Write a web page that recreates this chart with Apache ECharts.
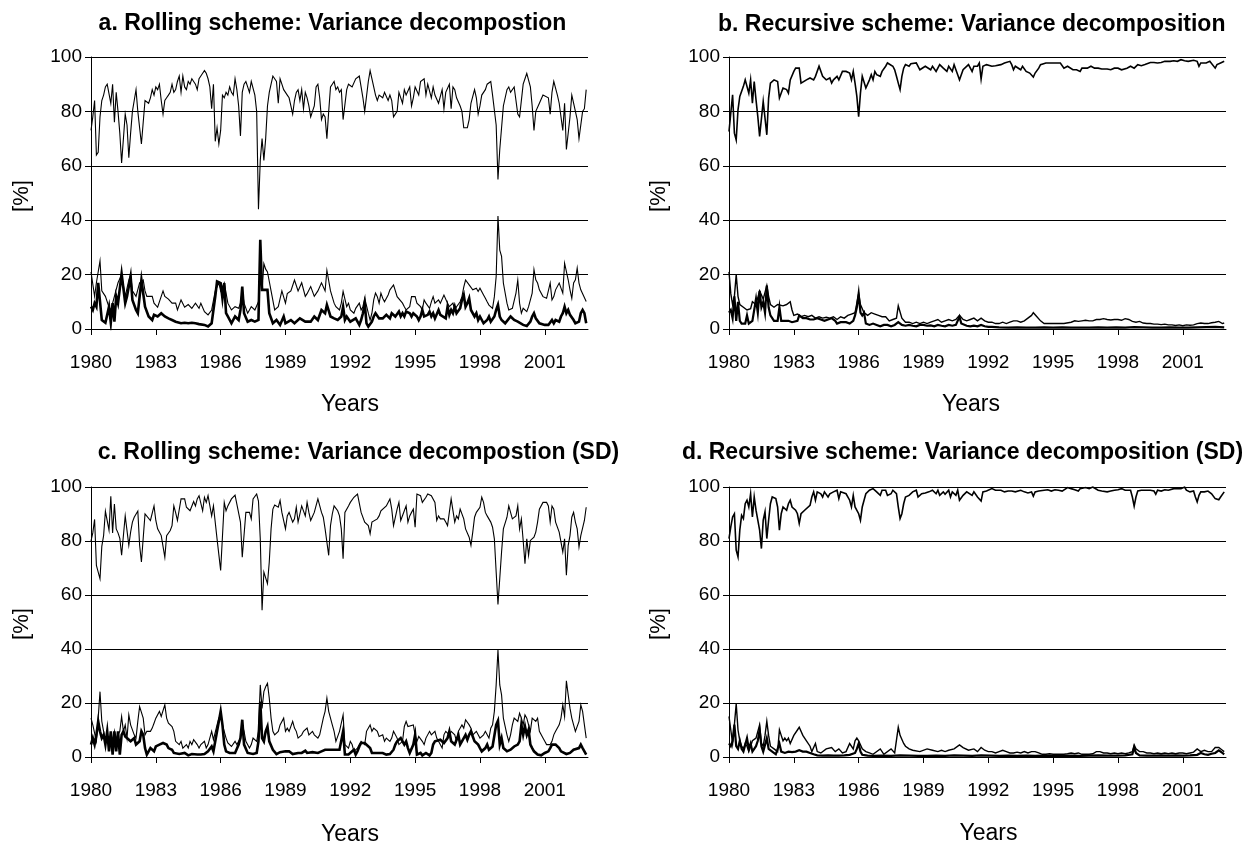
<!DOCTYPE html>
<html><head><meta charset="utf-8">
<script src="https://cdn.jsdelivr.net/npm/echarts@6/dist/echarts.min.js"></script>
<style>html,body{margin:0;padding:0;background:#fff}#c{width:1251px;height:846px}</style>
</head><body><div id="c"></div>
<script>
// x values are months since January 1980
const startYear = 1980;
const monthsTotal = 276;
const tickStepMonths = 36;
const panelTitles = [
  'a. Rolling scheme: Variance decompostion',
  'b. Recursive scheme: Variance decomposition',
  'c. Rolling scheme: Variance decompostion (SD)',
  'd. Recursive scheme: Variance decomposition (SD)'
];
const yAxisTitle = '[%]';
const xAxisTitle = 'Years';

// Panel a
const aTop = [[0,73],[1,78],[2,84],[3,64],[4,65],[5,78],[6,84],[7,86],[8,89],[9,90],[10,90],[11,83],[12,90],[13,76],[14,87],[15,80],[16,72],[17,61],[18,70],[19,79],[20,75],[21,63],[22,72],[23,80],[24,84],[25,88],[26,80],[27,74],[28,68],[29,76],[30,84],[31,84],[32,83],[33,85],[34,88],[35,86],[36,89],[37,88],[38,90],[39,84],[40,79],[41,84],[42,85],[43,86],[44,87],[45,90],[46,87],[47,88],[48,91],[49,93],[50,87],[51,93],[52,89],[53,88],[54,91],[55,90],[56,92],[57,91],[58,90],[59,88],[60,92],[61,93],[62,94],[63,95],[64,94],[65,92],[66,89],[67,81],[68,90],[69,69],[70,74],[71,68],[72,73],[73,86],[74,85],[75,87],[76,86],[77,89],[78,87],[79,86],[80,92],[81,88],[82,82],[83,71],[84,87],[85,90],[86,91],[87,89],[88,87],[89,91],[90,91],[91,86],[92,80],[93,44],[94,62],[95,70],[96,62],[97,70],[98,82],[99,87],[100,90],[101,93],[102,92],[103,91],[104,83],[105,92],[106,90],[107,88],[108,87],[109,86],[110,85],[111,82],[112,79],[113,84],[114,87],[115,88],[116,84],[117,88],[118,81],[119,87],[120,85],[121,82],[122,78],[123,80],[124,82],[125,89],[126,90],[127,85],[128,77],[129,79],[130,78],[131,70],[132,80],[133,89],[134,90],[135,91],[136,88],[137,89],[138,87],[139,88],[140,77],[142,88],[143,90],[145,89],[147,92],[149,93],[150,89],[151,85],[152,80],[154,91],[155,95],[157,89],[158,86],[159,84],[160,86],[162,85],[163,87],[165,84],[166,86],[167,84],[168,78],[170,80],[171,87],[173,83],[174,88],[175,86],[177,89],[178,82],[179,85],[180,89],[182,86],[183,91],[185,92],[186,86],[187,90],[189,85],[190,89],[191,86],[193,83],[195,88],[196,81],[197,87],[199,90],[200,81],[201,89],[202,88],[203,85],[205,82],[206,80],[207,74],[209,74],[210,77],[211,83],[213,88],[214,85],[215,79],[216,82],[217,86],[219,88],[220,90],[222,91],[223,86],[225,75],[226,55],[227,66],[229,82],[231,88],[232,89],[233,87],[235,89],[237,79],[238,78],[240,90],[241,92],[242,94],[244,89],[245,82],[246,73],[247,80],[249,83],[251,86],[252,86],[254,85],[255,79],[256,87],[257,91],[259,86],[260,83],[262,73],[263,83],[264,66],[266,78],[267,86],[268,83],[270,77],[271,70],[273,80],[274,81],[275,88]];
const aMid = [[0,21],[2,12],[3,17],[5,25],[6,14],[8,12],[10,8],[11,7],[13,12],[15,17],[17,20],[19,12],[21,18],[22,20],[23,14],[25,12],[27,17],[29,18],[30,14],[31,12],[34,12],[35,9.5],[37,8],[40,14],[41,12],[43,11],[45,9.5],[47,9.5],[48,7],[50,10.7],[52,8],[54,9],[56,7.6],[58,9.5],[60,7.6],[61,9.5],[63,6.4],[65,5.2],[67,7],[69,14],[71,17],[72,14],[74,17],[76,9.5],[78,7],[80,8.2],[82,7.6],[83,9.5],[84,14],[85,9.5],[87,5.8],[89,8.2],[91,7],[93,10],[94,20],[95,14],[96,24],[97,22],[98,21],[100,14],[102,7],[104,8.2],[106,14],[108,9.5],[109,13],[111,14],[113,18],[115,14],[117,17],[119,12],[120,13],[122,15.6],[124,12],[126,14],[128,17],[130,14],[131,21.5],[133,14],[135,9.5],[136,8.2],[138,7],[139,9.5],[140,13.8],[142,8.2],[143,9.5],[144,7],[146,5.8],[147,7.6],[149,9.5],[150,7],[151,8.2],[152,11.3],[154,5.8],[155,3.3],[156,5.8],[157,10.7],[158,13.2],[159,11.9],[160,9.5],[161,13.2],[162,11.3],[163,10],[165,12.5],[166,14.4],[168,16.2],[169,16.9],[170,11.9],[171,11.9],[173,9.5],[174,8.2],[175,7],[177,8.2],[178,11.9],[179,12.5],[180,11.9],[181,9.5],[183,8.2],[184,7],[185,10.7],[186,9.5],[188,7.6],[189,10],[190,11.9],[191,9.5],[193,10.7],[194,9.5],[196,12.5],[197,13.2],[198,9.5],[199,8.2],[201,9.5],[202,7],[203,8.2],[205,10],[206,11.9],[207,15.4],[208,18],[210,16.2],[211,16.9],[212,14.4],[214,15],[215,13.8],[216,15],[218,12.5],[219,11.3],[220,10],[221,8.8],[223,7.6],[224,11.9],[225,19.3],[226,41.5],[227,29],[228,26.7],[229,16.9],[231,9.5],[232,7],[234,7.6],[235,8.2],[236,13.2],[237,18],[238,9.5],[239,5.8],[240,7.6],[242,6.4],[243,8.2],[245,13.2],[246,21.8],[247,18.1],[248,16.9],[249,14.4],[251,11.9],[252,11.3],[253,11.3],[255,16.9],[256,10.7],[257,11.9],[258,14.4],[260,16.9],[261,16.9],[262,13.2],[263,24.2],[265,18.1],[266,14.4],[267,11.3],[268,16.9],[269,18.1],[270,22.4],[271,16.9],[272,14.4],[273,14.4],[275,10.1]];
const aThick = [[0,8.2],[1,7],[2,9.5],[3,8.2],[4,17],[6,3.3],[8,2.3],[9,2.3],[10,8.2],[11,2.3],[12,9.5],[13,2.7],[14,12],[15,9.5],[17,20.3],[19,9.5],[20,12],[22,19.3],[23,10.7],[25,7],[26,5.8],[28,18],[30,8.2],[32,4.6],[34,3.3],[35,5.2],[37,4.6],[39,5.8],[41,4.6],[43,3.9],[45,3.3],[47,2.7],[48,2.1],[50,2.1],[52,2.3],[54,2.1],[56,2.3],[58,2.1],[60,1.8],[61,2.1],[63,1.5],[65,0.9],[67,2.1],[69,11.9],[70,17.5],[72,16.9],[73,11.3],[74,16.9],[75,5.8],[76,4.6],[78,2.1],[80,4.6],[82,3.3],[83,7],[84,15.6],[85,5.8],[87,2.7],[89,3.3],[91,2.7],[93,3.3],[94,32.8],[95,14.4],[96,14.4],[98,14.4],[99,5.8],[101,2.1],[103,3.3],[105,1.5],[107,4.6],[108,2.1],[111,3.3],[113,2.1],[116,3.9],[119,2.7],[120,3.3],[122,2.7],[124,4.6],[126,3.3],[128,7],[130,5.8],[131,8.9],[133,4.6],[135,3.9],[136,4.6],[137,3.3],[139,4.6],[140,8.2],[141,3.3],[142,4.6],[144,2.7],[145,2.1],[147,3.9],[148,2.7],[149,1.5],[150,3.3],[151,5.8],[152,9.5],[153,2.1],[154,0.9],[156,2.7],[157,4.6],[158,5.8],[160,3.9],[161,4.6],[162,3.9],[164,5.2],[165,4.6],[166,3.9],[167,5.8],[169,4.6],[171,6.4],[172,4.6],[173,5.8],[174,4.6],[175,6.4],[177,5.8],[178,4.6],[179,5.8],[181,4.6],[182,3.3],[183,4.6],[184,7],[185,4.6],[187,5.2],[188,6.4],[189,4.6],[190,5.8],[191,3.9],[193,7],[194,5.2],[195,5.8],[197,3.9],[198,8.2],[199,5.2],[200,7],[201,5.8],[202,8.2],[203,5.8],[205,7.6],[206,10.7],[207,12.5],[208,8.2],[209,9.5],[210,11.3],[211,7],[212,7.6],[213,4.6],[214,5.8],[215,3.3],[216,4.6],[218,2.1],[219,1.5],[220,3.3],[221,4.6],[222,2.7],[224,4.6],[225,7],[226,8.9],[227,4.6],[228,3.3],[230,2.1],[231,2.7],[233,4.6],[234,5.2],[235,3.3],[237,2.7],[238,2.1],[240,1.5],[241,2.1],[242,1.1],[244,2.7],[245,4.6],[246,5.8],[247,3.9],[249,2.1],[250,2.7],[252,1.5],[253,2.1],[254,1.5],[256,3.3],[257,2.1],[258,3.3],[260,2.7],[261,4.6],[262,5.8],[263,8.2],[264,5.8],[265,7],[266,5.2],[268,3.3],[269,2.1],[271,2.7],[272,5.8],[273,7],[274,5.8],[275,2.1]];

// Panel b
const bTop = [[0,72.6],[1,79.4],[2,86.1],[3,72],[4,69.5],[5,80.6],[6,85.5],[8,89.2],[9,91.6],[10,91.4],[11,86.7],[12,91.6],[13,83],[14,91],[15,84.3],[16,78.1],[17,70.8],[19,83.7],[20,84],[21,71.4],[22,84.9],[23,90.4],[25,91.6],[27,91],[28,84.9],[29,84.3],[30,88.6],[32,88],[33,86.7],[34,91.6],[36,94.7],[37,95.9],[39,95.9],[40,90.4],[41,89.8],[43,91.6],[44,91],[45,92.3],[47,91.6],[48,92.9],[50,96.6],[51,96.6],[52,92.9],[53,93.5],[54,91.6],[56,92.3],[57,90.4],[58,91.6],[60,92.9],[61,91.6],[63,94.7],[64,95.3],[65,94.7],[67,94.1],[68,91.6],[69,94.7],[70,90.4],[71,85.5],[72,78.1],[73,86.7],[74,92.9],[76,88.6],[77,88],[78,91.6],[79,93.5],[80,91.6],[81,94.7],[82,93.5],[84,92.9],[85,94.7],[87,96.6],[88,97.8],[89,97.2],[91,96.6],[92,95.3],[93,92.9],[94,90.4],[95,88],[96,92.9],[97,95.9],[98,97.2],[100,96.6],[101,97.5],[102,97.2],[104,97.8],[105,97.8],[106,95.3],[107,95.1],[109,96.6],[110,95.9],[112,95.3],[113,96.6],[115,94.7],[117,97.2],[119,95.9],[121,94.7],[122,96.6],[124,94.7],[125,97.2],[126,95.3],[127,93.5],[128,91.6],[129,93.5],[130,95.3],[131,95.9],[133,97.2],[134,96.6],[135,94.7],[136,96.6],[137,97.2],[138,96.6],[139,97.8],[140,91.9],[141,96.6],[143,97.2],[144,96.8],[146,96.6],[148,96.8],[149,97.2],[151,97.2],[153,97.8],[154,98],[156,98.4],[157,97.2],[158,95.3],[159,96.6],[160,95.9],[162,95.3],[163,96.6],[165,94.7],[167,94.1],[168,93.5],[169,92.6],[170,94.1],[172,95.9],[173,97.2],[174,97.8],[176,97.8],[178,97.8],[180,97.8],[182,97.8],[184,97.8],[185,97.5],[186,95.9],[188,96.6],[189,95.9],[191,95.3],[193,95.3],[194,95.6],[195,94.7],[196,95.9],[197,96.6],[199,95.9],[201,96.6],[203,95.9],[205,95.9],[207,95.6],[208,95.3],[210,95.6],[212,95.3],[214,95.9],[216,95.9],[218,95.3],[219,95.1],[221,95.9],[223,96.6],[225,95.9],[226,95.3],[227,97.2],[229,96.8],[231,97.2],[232,97.8],[234,98],[236,98],[238,97.8],[240,98],[242,98.4],[243,98.6],[245,98.4],[247,98.6],[249,98.4],[251,99],[253,98.6],[255,98.4],[256,99],[258,98.8],[260,98.4],[261,96.6],[262,97.8],[263,98],[265,97.8],[267,98.4],[268,98],[270,95.9],[271,97.2],[272,96.6],[273,97.8],[275,98.4]];
const bMid = [[0,21],[1,13],[2,9],[3,12],[4,20],[5,12],[6,9],[8,8],[10,7],[12,7.5],[13,10],[15,9],[17,14],[19,11],[21,16],[22,12],[23,9],[25,8],[27,9],[28,8.5],[30,8.5],[32,9],[34,10],[35,7],[36,5],[38,5.5],[40,4.5],[42,5],[44,4.5],[46,5],[48,4],[50,4.5],[52,4],[54,4.3],[56,4],[58,4.5],[60,3.5],[62,4.5],[64,4],[66,5],[68,5.5],[70,6],[72,13],[73,9],[75,6],[77,5],[79,6],[81,5.5],[83,5],[85,4.5],[87,4.5],[89,3],[91,3.5],[93,4],[94,8.5],[96,4],[98,2.5],[100,2.5],[102,2],[104,2.5],[106,2],[108,2.5],[110,2],[112,2.5],[114,3],[116,3.5],[118,2.5],[120,3],[122,3.5],[124,3],[126,3.5],[128,5],[130,3.5],[132,3],[134,3.5],[136,4],[138,3],[140,4],[142,3],[144,2.5],[146,2.5],[148,2],[150,2],[152,2.5],[154,2],[156,2.5],[158,3],[160,3],[162,2.5],[164,3],[166,4],[168,5],[169,6],[171,4.5],[173,3],[175,2],[178,2],[182,2],[186,2],[190,2.5],[192,3],[194,2.8],[196,3],[198,3.2],[200,3],[202,3],[204,3.5],[206,3.5],[208,3.8],[210,3.5],[212,3.3],[214,3.5],[216,3.5],[218,3.2],[220,3.8],[222,3.5],[224,2.8],[226,2.5],[228,2.8],[230,2.2],[232,2],[234,2],[236,1.8],[238,1.8],[240,1.6],[242,1.8],[244,1.5],[246,1.5],[248,1.3],[250,1.5],[252,1.2],[254,1.5],[256,1.4],[258,1.5],[260,2],[262,2.2],[264,2],[266,2],[268,2.3],[270,2.5],[272,2.8],[274,2],[275,2.2]];
const bThick = [[0,6],[1,7],[2,4],[3,12],[4,3],[5,10],[6,3],[7,2],[9,2],[10,5],[11,2],[12,2],[13,3],[15,11],[16,6],[17,14],[18,8],[19,10],[20,6],[21,16],[22,8],[23,5],[25,3],[27,3],[28,8],[29,3],[31,3],[33,3],[35,2.5],[36,2],[38,3],[39,5],[41,4],[43,4],[45,3.5],[47,3.5],[49,4],[51,3.5],[53,3],[55,3.5],[57,4],[59,3],[60,2],[62,2.5],[63,3],[65,2.5],[67,2],[69,3],[70,5],[71,8],[72,13],[73,6],[74,5],[75,6],[76,2],[78,1.5],[80,2],[82,1.5],[84,1],[86,1.5],[88,1.5],[90,1],[92,1.5],[94,2.5],[96,1.5],[98,1.2],[100,1.5],[102,1.2],[104,1],[106,1.5],[108,1.5],[110,1.2],[112,1.3],[114,1],[116,1.5],[118,1.2],[120,1],[122,1.5],[124,1.2],[126,1.5],[128,4.5],[129,2],[130,1.5],[132,1.2],[134,1],[136,1.2],[138,1],[140,1.5],[142,1],[144,0.8],[146,0.8],[150,0.6],[155,0.5],[160,0.6],[165,0.5],[170,0.5],[175,0.6],[180,0.5],[185,0.6],[190,0.5],[195,0.5],[200,0.5],[205,0.6],[210,0.5],[215,0.6],[220,0.5],[225,0.7],[230,0.6],[235,0.5],[240,0.5],[245,0.6],[250,0.5],[255,0.5],[260,0.6],[265,0.7],[270,0.8],[275,0.6]];

// Panel c
const cTop = [[0,80],[1,83],[2,88],[3,71],[5,66],[6,78],[7,82],[8,91],[9,91.5],[10,84],[11,96.6],[12,83],[13,93.7],[14,84.5],[15,83],[16,81],[17,74.7],[19,89.3],[20,89.3],[21,78.4],[22,83.3],[23,87],[24,88.8],[26,91.1],[27,78.4],[28,72.2],[30,90],[31,89.3],[33,87.6],[35,93],[36,87.6],[37,84.5],[39,82],[41,74],[42,82],[44,83.9],[45,85.7],[46,93],[47,90.5],[48,87.6],[50,95.6],[52,95.6],[53,92.5],[54,93],[55,91.2],[57,94.6],[58,93],[59,95.6],[60,96.8],[62,91.2],[63,96.2],[64,94.3],[65,96.8],[67,89.3],[68,93],[70,80.8],[71,80.8],[72,69.1],[74,94.3],[75,91.2],[76,93],[78,95.6],[80,97],[81,97.4],[83,87],[84,74],[86,90.6],[87,91.2],[88,90.6],[89,88.2],[90,95.6],[92,97.4],[93,94.8],[94,80.8],[95,54.4],[96,68.5],[97,68.5],[98,64.2],[99,72.2],[100,84.5],[101,91.8],[102,93.3],[104,92.5],[105,95],[106,90.6],[108,84.5],[109,89.3],[110,90.6],[112,87],[113,88.2],[114,92.5],[115,87],[117,93],[118,93.7],[119,89.3],[120,94.3],[121,90.6],[122,87.6],[123,87.6],[124,90.6],[126,95.6],[127,95],[128,90.6],[129,88.8],[130,84.5],[132,74.7],[133,85.7],[134,90],[135,93],[137,91.2],[138,89.3],[139,84.5],[140,73.4],[141,90.6],[143,93],[144,94.3],[145,93.7],[146,96.2],[148,97.4],[149,96.8],[150,90.6],[151,90.6],[152,87],[154,85.7],[155,82.7],[156,87],[157,87.6],[159,88.2],[160,89.3],[161,91.2],[162,90.6],[164,93],[165,94.3],[166,95.6],[167,91.8],[168,85.7],[169,85.1],[170,91.8],[171,94.3],[172,87.6],[173,87],[174,91.2],[175,93],[176,87],[177,89.3],[178,90.6],[179,91.8],[180,85.1],[181,97.4],[182,97.4],[183,96.8],[184,94.3],[186,96.2],[187,97.4],[188,96.8],[189,96.8],[191,94.3],[192,87.6],[193,89.3],[194,88.2],[196,88.2],[197,87],[198,85.7],[200,95.6],[201,96.2],[202,87],[203,89.3],[204,88.2],[205,91.8],[207,88.2],[208,84.5],[210,81.4],[211,78.4],[212,83.3],[213,88.8],[214,90.6],[216,92.5],[217,96.2],[218,94.3],[219,90.6],[220,89.3],[222,87],[223,85.1],[224,80.8],[225,68.5],[226,56.5],[227,66.1],[228,75.9],[229,84.5],[231,88.8],[232,93],[233,90.6],[234,88.2],[236,89.3],[237,93],[238,84.5],[239,88.2],[240,80.2],[241,71.6],[242,80.8],[243,74.7],[244,80.2],[245,80.8],[246,81.4],[247,83.3],[248,87],[249,91.8],[251,94.3],[252,95],[253,94.3],[254,93],[255,87],[256,93],[257,91.8],[258,87],[259,87],[260,83.3],[261,79.6],[262,75.9],[263,80.8],[264,67.3],[265,78.4],[266,82],[267,88.8],[268,90.6],[269,87],[270,84.5],[271,77.8],[272,82],[274,87.6],[275,92.5]];
const cMid = [[0,14.4],[1,11.9],[3,5.8],[4,14.4],[5,24.2],[6,13.2],[7,9.5],[8,5.8],[9,8.2],[10,4.6],[11,8.2],[12,5.8],[13,9.5],[14,4.6],[15,8.2],[16,9.5],[17,15],[18,9.5],[19,11.9],[20,7],[21,15.6],[22,11.9],[24,8.2],[25,7],[26,13.2],[27,18.7],[29,14.4],[30,8.2],[31,9.5],[33,9.5],[34,10.7],[35,12.5],[36,14.4],[38,16.9],[39,15],[41,19.3],[42,14.4],[43,12.5],[45,11.3],[46,9.5],[47,5.8],[49,4.6],[50,5.8],[51,3.3],[53,4.6],[54,3.3],[55,5.8],[56,4.6],[57,6.4],[59,4.6],[60,3.3],[61,4.6],[63,5.8],[64,3.3],[65,4.6],[67,9.5],[68,6.4],[70,11.9],[71,14.4],[72,15.6],[73,11.9],[75,7],[76,5.2],[78,3.9],[79,4.6],[80,5.8],[81,4.6],[83,7],[84,11.9],[85,9.5],[86,5.8],[88,3.3],[89,4.6],[90,7],[92,5.8],[93,9.5],[94,26.7],[95,18],[96,24.2],[97,26],[98,27.3],[99,21.8],[100,14.4],[101,9.5],[102,8.2],[104,9.5],[105,11.9],[107,14.4],[108,9.5],[109,10.7],[110,9.5],[112,13.2],[113,10.7],[114,9.5],[115,7],[117,8.2],[118,9.5],[120,10.7],[121,8.2],[122,7.6],[123,9.5],[124,8.2],[126,7],[127,8.2],[129,14.4],[130,16.9],[131,21.8],[132,16.9],[134,11.9],[135,9.5],[136,5.8],[138,9.5],[139,9.5],[140,15.6],[141,4.6],[143,3.3],[144,5.8],[145,4.6],[146,2.1],[148,3.3],[149,4.6],[150,5.8],[152,4.6],[153,9.5],[155,11.9],[156,9.5],[157,10.7],[159,9.5],[160,7.6],[162,8.2],[163,5.8],[164,7],[166,5.8],[167,7],[168,9.5],[170,7],[171,4.6],[173,5.8],[174,11.3],[175,13.2],[176,11.3],[177,10.7],[179,11.9],[180,8.2],[181,5.8],[182,7.6],[184,5.8],[185,4.6],[186,7],[188,9.5],[189,8.2],[191,9.5],[192,7],[193,5.8],[195,3.3],[196,8.2],[197,9.5],[199,8.2],[200,9.5],[202,8.2],[203,5.8],[204,9.5],[206,11.9],[207,10.7],[208,13.8],[210,11.9],[211,10.7],[212,8.2],[214,9.5],[215,9.5],[216,7],[218,8.2],[219,9.5],[221,7],[222,10.7],[223,11.9],[224,16.9],[225,26.7],[226,39.6],[227,26.7],[228,23],[229,14.4],[231,8.2],[232,5.8],[233,8.2],[234,11.9],[235,14.4],[237,13.2],[238,16.2],[239,14.4],[240,11.9],[241,15.6],[242,14.4],[243,11.9],[244,9.5],[245,14.4],[247,13.2],[248,14.4],[249,9.5],[251,7],[252,5.8],[253,4.6],[255,4.6],[256,5.8],[257,8.2],[258,9.5],[260,11.9],[261,14.4],[262,19.3],[263,15],[264,28.2],[265,23],[266,18.1],[267,14.4],[268,11.9],[269,9.5],[271,13.2],[272,19.3],[273,16.9],[274,11.9],[275,7]];
const cThick = [[0,4.6],[1,7],[2,4.6],[3,8.2],[4,13.2],[5,9.5],[6,7],[7,8.2],[8,4.6],[9,9.5],[10,2.1],[11,9.5],[12,0.9],[13,9.5],[14,2.1],[15,9.5],[16,0.9],[17,8.2],[18,9.5],[19,7.6],[20,7],[22,5.8],[23,5.8],[24,7],[25,4.6],[26,5.2],[27,5.8],[28,9.5],[29,8.2],[30,3.3],[31,0.9],[32,2.1],[33,3.3],[35,2.1],[36,3.9],[37,3.3],[38,4.6],[40,5.2],[41,5.8],[42,4.6],[43,3.3],[45,2.7],[46,1.5],[47,0.9],[49,1.1],[50,0.9],[52,1.5],[53,0.9],[54,0.6],[56,1.1],[57,0.6],[59,0.9],[60,0.5],[61,0.9],[63,1.1],[64,0.6],[65,2.1],[67,3.9],[68,2.1],[69,5.8],[70,9.5],[71,13.2],[72,16.9],[73,11.9],[74,4.6],[75,2.1],[77,1.5],[78,0.9],[80,1.5],[81,2.1],[82,4.6],[83,7],[84,13.8],[85,4.6],[87,1.5],[88,0.9],[90,1.1],[91,0.6],[92,1.5],[93,5.8],[94,20.5],[95,7],[96,5.8],[97,9.5],[98,11.3],[99,5.8],[101,2.7],[102,2.1],[103,1.1],[105,1.8],[106,1.1],[108,2.1],[109,1.5],[110,2.1],[112,1.1],[113,1.8],[115,1.5],[116,2.1],[117,1.5],[119,2.3],[120,1.5],[121,2.1],[123,1.8],[124,2.3],[126,1.5],[128,2.1],[130,2.7],[131,3.3],[133,2.7],[134,3.3],[135,2.7],[136,2.1],[138,2.7],[139,3.3],[140,9.5],[141,0.9],[142,1.5],[143,0.9],[144,1.5],[146,2.7],[147,0.9],[148,2.1],[149,3.9],[150,5.2],[152,5.2],[153,4.6],[155,3.3],[156,1.5],[157,1.1],[159,1.5],[160,0.9],[162,1.5],[163,2.1],[164,0.9],[166,1.1],[167,1.5],[168,2.7],[169,4.6],[170,5.8],[172,7],[173,5.8],[174,4.6],[175,5.8],[176,3.3],[177,1.5],[178,0.9],[179,4.6],[180,8.2],[181,0.9],[182,0.6],[183,1.5],[184,0.6],[185,0.9],[186,1.5],[188,0.6],[189,1.5],[190,4.6],[191,5.8],[192,5.2],[194,6.4],[195,7],[196,5.2],[197,5.8],[198,7],[199,9.5],[200,5.8],[202,4.6],[203,6.4],[204,8.2],[205,4.6],[207,7],[208,8.2],[209,6.4],[210,8.2],[211,9.5],[212,7.6],[213,5.8],[215,4.6],[216,3.3],[217,2.1],[219,3.3],[220,4.6],[221,2.7],[223,3.9],[224,4.6],[225,11.9],[226,13.4],[227,4.6],[228,7],[229,3.3],[230,2.7],[231,2.1],[233,2.7],[234,3.3],[235,3.9],[237,4.6],[238,5.8],[239,11.9],[240,8.2],[241,11.3],[242,8.2],[243,10.1],[244,4.6],[245,3.3],[246,2.1],[247,1.5],[248,0.9],[250,0.6],[251,0.9],[252,1.5],[254,2.1],[255,3.3],[256,4.6],[257,5.2],[258,4.6],[260,3.3],[261,2.1],[262,1.5],[264,1.1],[265,1.8],[266,1.5],[268,2.7],[269,2.1],[271,3.3],[272,4.6],[273,3.3],[274,2.1],[275,0.9]];

// Panel d
const dTop = [[0,80.9],[1,85.2],[2,88.9],[3,90.1],[4,76.6],[5,74.1],[6,84],[7,89.5],[8,88.3],[9,93.8],[10,95.1],[11,92.6],[12,97.5],[13,88.9],[14,96.3],[15,91.4],[16,87.7],[17,84],[18,77.2],[19,87.7],[20,90.8],[21,80.9],[22,87.7],[23,93.8],[24,96.3],[26,95.7],[27,92.6],[28,84],[29,90.1],[30,92.6],[31,93.2],[32,91.4],[33,93.8],[34,95.1],[35,92.6],[37,91.4],[38,90.1],[39,86.5],[40,90.1],[42,91.4],[43,92],[45,93.2],[46,96.3],[47,98.2],[48,95.1],[49,98.2],[50,98.8],[51,97.5],[52,96.3],[53,98.2],[55,96.3],[56,97.5],[58,98.2],[59,97.5],[60,98.8],[61,95.7],[62,98.2],[63,98.8],[65,97.5],[66,96.9],[67,95.1],[68,92.6],[69,96.9],[70,92.6],[71,92.6],[72,90.1],[73,87.7],[74,92.6],[75,95.1],[76,97.5],[77,98.2],[78,98.8],[80,99.4],[81,98.8],[82,98.2],[84,96.9],[85,98.8],[86,98.2],[87,98.8],[88,96.9],[90,97.5],[91,98.8],[92,99.4],[93,97.5],[94,92.6],[95,88.3],[96,90.1],[97,93.8],[98,96.3],[100,96.9],[101,96.9],[102,98.2],[104,98.8],[105,96.3],[106,96.9],[107,97.5],[109,97.8],[110,98.2],[111,98.2],[112,98.2],[113,98.8],[115,97.5],[116,98.8],[117,96.9],[119,98.2],[120,97.3],[122,98.8],[123,96.3],[124,98.2],[126,96.9],[127,98.8],[128,95.1],[130,96.9],[131,96.3],[132,98.2],[133,98.8],[135,96.9],[136,98.2],[137,97.5],[138,96.3],[139,96.9],[140,94.8],[141,98.2],[143,98.5],[144,98.2],[146,99.4],[148,98.8],[149,98.5],[151,98.8],[153,98.2],[155,98.5],[157,98.5],[159,98.2],[160,98.2],[162,98.8],[164,98.2],[166,97.8],[168,98.2],[169,96.6],[170,98.2],[172,98.5],[173,98.5],[175,98.8],[177,99],[179,98.5],[181,99],[183,98.8],[184,99.4],[185,98.5],[186,98.8],[188,99.8],[190,99.4],[192,99],[194,98.5],[195,99.4],[196,99],[198,99.8],[200,99.4],[202,100],[203,99.4],[205,98.8],[207,98.5],[208,97.8],[210,98.2],[212,98.5],[214,98.8],[216,99],[218,99.4],[220,98.8],[221,99.4],[223,98.8],[224,96.3],[225,92.9],[226,96.3],[227,98.5],[229,98.8],[231,98.8],[232,99.4],[234,98.8],[236,98.5],[237,97.3],[238,98.8],[240,98.5],[242,99],[244,98.8],[245,98.8],[247,99.4],[249,99.4],[251,99.4],[253,100],[254,98.8],[255,99.4],[256,98.2],[258,98.5],[259,96.3],[260,94.5],[261,96.9],[262,98.2],[264,98.2],[266,98.5],[268,97.5],[269,96.9],[270,95.7],[272,95.3],[273,96.3],[275,98.2]];
const dMid = [[0,15],[1,10],[2,5],[3,12],[4,19.7],[5,10],[6,6],[7,4],[8,3],[9,5],[10,4],[11,2],[13,6],[15,7],[17,11.9],[18,5],[19,4],[20,8],[21,13.2],[22,8],[23,4],[25,3],[26,3],[27,2],[28,10.1],[29,8],[30,6],[31,7],[32,6],[33,7],[34,5],[36,8],[38,10],[39,11],[41,8],[43,6],[45,4],[46,2],[48,5],[49,2],[51,1.5],[54,3],[57,3.5],[59,2],[61,3],[63,1.5],[65,2],[67,5],[69,3],[70,6],[71,7],[72,6],[74,3],[76,2],[78,1.5],[80,1],[84,3],[86,1],[90,3],[92,1.5],[94,11],[95,8],[97,5],[98,4],[100,3],[102,2.5],[106,2],[110,3],[113,2.5],[116,2],[118,2.5],[120,2],[122,2.5],[125,3],[128,4.5],[130,3.5],[133,2.5],[136,3],[138,2],[140,3.5],[142,2.5],[144,2],[146,2],[148,1.5],[150,2],[152,2.5],[154,2],[156,1.5],[158,1.5],[160,1.8],[162,1.5],[164,2],[166,1.5],[168,2],[170,2],[172,1.5],[174,1],[176,1],[178,1.2],[180,1],[182,1],[184,1],[186,1],[188,1.2],[190,1.5],[192,1.2],[194,1.5],[196,1],[198,1],[200,1],[202,1.2],[204,2],[206,2],[208,1.5],[210,1.5],[212,1.2],[214,1.5],[216,1.2],[218,1.5],[220,1.2],[222,1.5],[224,2],[225,4.5],[226,3],[228,2],[230,2],[232,1.5],[234,1.5],[236,1.2],[238,1.5],[240,1.2],[242,1.5],[244,1.2],[246,1.5],[248,1.2],[250,1.5],[252,1.5],[254,1.2],[256,1.5],[258,1.8],[260,3],[262,2],[264,2.5],[266,2],[268,2],[270,3.5],[271,4],[272,3.5],[274,2.5],[275,2]];
const dThick = [[0,5],[1,4],[2,6],[3,12],[4,4],[5,3],[6,6],[7,3],[8,2],[10,7],[11,3],[12,5],[13,2],[15,4],[16,6],[17,10],[18,4],[19,2],[21,7],[22,3],[24,2],[26,1],[28,5],[29,2],[31,1.5],[33,2],[35,1.8],[37,2],[39,2.5],[41,2],[43,2],[45,1.5],[47,1],[49,0.6],[52,0.5],[55,0.6],[58,0.5],[61,0.5],[64,0.6],[67,0.8],[70,1.5],[71,3],[72,5],[73,2],[74,0.8],[77,0.5],[80,0.4],[85,0.5],[90,0.4],[95,0.6],[100,0.5],[105,0.4],[110,0.4],[115,0.5],[120,0.4],[125,0.6],[130,0.5],[135,0.4],[140,0.6],[145,0.5],[150,0.4],[155,0.5],[160,0.4],[165,0.5],[170,0.4],[175,0.5],[180,0.4],[185,0.4],[190,0.5],[195,0.4],[200,0.5],[205,0.6],[210,0.5],[215,0.5],[220,0.6],[224,1],[225,3.5],[226,1.5],[228,0.6],[232,0.5],[236,0.5],[240,0.6],[244,0.5],[248,0.6],[252,0.5],[256,0.6],[260,0.8],[262,1.5],[264,1],[266,0.8],[268,1.2],[270,1.5],[272,2.5],[273,3],[274,1.5],[275,1]];

const FONT = '"Liberation Sans", Arial, Helvetica, sans-serif';
const chart = echarts.init(document.getElementById('c'), null, {renderer: 'canvas'});

const grids = [
  {left: 91, top: 57, width: 497, height: 272},
  {left: 729, top: 57, width: 497, height: 272},
  {left: 91, top: 487, width: 497, height: 270},
  {left: 729, top: 487, width: 497, height: 270}
];
const panelSeries = [
  [[aTop, 1.1], [aMid, 1.1], [aThick, 2.6]],
  [[bTop, 1.6], [bMid, 1.4], [bThick, 2.2]],
  [[cTop, 1.1], [cMid, 1.1], [cThick, 2.6]],
  [[dTop, 1.6], [dMid, 1.4], [dThick, 2.2]]
];

const xAxes = grids.map((g, i) => ({
  type: 'value', gridIndex: i, min: 0, max: monthsTotal, interval: tickStepMonths,
  axisLine: {show: true, onZero: false, lineStyle: {color: '#000', width: 1}},
  axisTick: {show: true, inside: false, length: 6, lineStyle: {color: '#000', width: 1}},
  axisLabel: {show: true, margin: 24, color: '#000', fontSize: 19, fontFamily: FONT,
    showMaxLabel: false, formatter: v => String(startYear + v / 12)},
  splitLine: {show: false}
}));
const yAxes = grids.map((g, i) => ({
  type: 'value', gridIndex: i, min: 0, max: 100, interval: 20,
  axisLine: {show: true, lineStyle: {color: '#000', width: 1}},
  axisTick: {show: true, inside: false, length: 6, lineStyle: {color: '#000', width: 1}},
  axisLabel: {show: true, margin: 9, color: '#000', fontSize: 19, fontFamily: FONT},
  splitLine: {show: true, lineStyle: {color: '#000', width: 1}}
}));
const series = [];
panelSeries.forEach((list, i) => {
  list.forEach(([data, w]) => {
    series.push({type: 'line', xAxisIndex: i, yAxisIndex: i, data: data,
      showSymbol: false, symbol: 'none', silent: true, animation: false,
      lineStyle: {color: '#000', width: w, join: 'miter'}});
  });
});

const titlePos = [[332.5, 23.5], [971.7, 25], [358.5, 452.5], [962.5, 452.5]];
const yNamePos = [[21.7, 196], [658.8, 196], [21.7, 624], [658.8, 624]];
const xNamePos = [[350, 405], [971, 405], [350, 835], [988.5, 834]];
const graphics = [];
titlePos.forEach((p, i) => graphics.push({type: 'text', x: p[0], y: p[1], silent: true,
  style: {text: panelTitles[i], fill: '#000', font: 'bold 23px ' + FONT, align: 'center', verticalAlign: 'middle'}}));
yNamePos.forEach(p => graphics.push({type: 'text', x: p[0], y: p[1], rotation: Math.PI / 2, silent: true,
  style: {text: yAxisTitle, fill: '#000', font: '22px ' + FONT, align: 'center', verticalAlign: 'middle'}}));
xNamePos.forEach(p => graphics.push({type: 'text', x: p[0], y: p[1], silent: true,
  style: {text: xAxisTitle, fill: '#000', font: '23px ' + FONT, align: 'center', verticalAlign: 'middle'}}));

chart.setOption({
  animation: false,
  backgroundColor: '#fff',
  grid: grids,
  xAxis: xAxes,
  yAxis: yAxes,
  series: series,
  graphic: graphics
});
</script></body></html>
